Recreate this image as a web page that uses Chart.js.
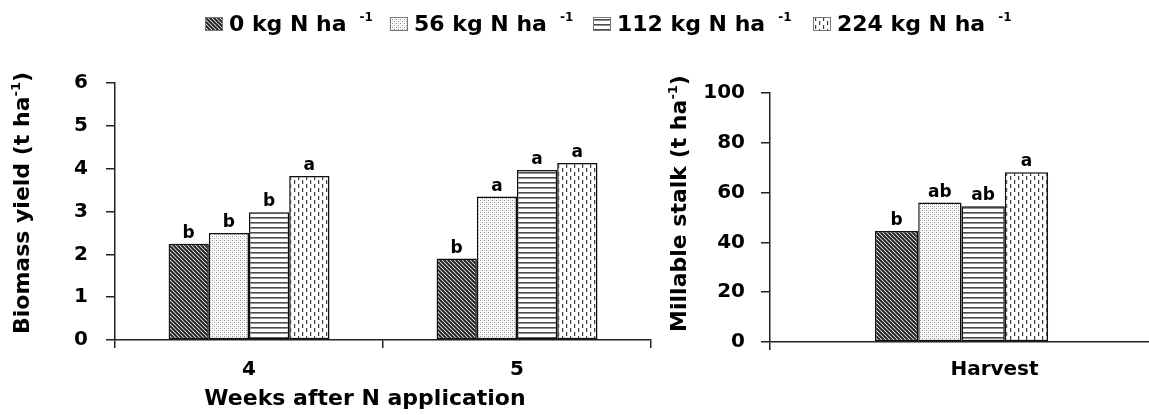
<!DOCTYPE html>
<html>
<head>
<meta charset="utf-8">
<script src="https://cdn.jsdelivr.net/npm/chart.js@4.4.1/dist/chart.umd.min.js"></script>
<style>
  html, body { margin:0; padding:0; background:#fff; overflow:hidden; width:1149px; height:415px; }
  #wrap { position:relative; width:1149px; height:415px; overflow:hidden; font-family:"DejaVu Sans", sans-serif; }
  #c1 { position:absolute; left:0; top:0; }
  #c2 { position:absolute; left:640px; top:0; }
  .lg { position:absolute; top:11px; display:flex; align-items:center; font-weight:bold; font-size:22px; color:#000; white-space:nowrap; }
  .lg canvas { width:18px; height:14px; margin-right:6px; }
  .lg sup { font-size:12px; position:relative; top:-7px; vertical-align:baseline; margin-left:13px; }
</style>
</head>
<body>
<div id="wrap">
  <canvas id="c1" width="655" height="415"></canvas>
  <canvas id="c2" width="520" height="415"></canvas>
  <div class="lg" style="left:205px"><canvas id="k0" width="18" height="14"></canvas><span>0 kg N ha</span><sup>-1</sup></div>
  <div class="lg" style="left:390px"><canvas id="k1" width="18" height="14"></canvas><span>56 kg N ha</span><sup>-1</sup></div>
  <div class="lg" style="left:593px"><canvas id="k2" width="18" height="14"></canvas><span>112 kg N ha</span><sup>-1</sup></div>
  <div class="lg" style="left:813px"><canvas id="k3" width="18" height="14"></canvas><span>224 kg N ha</span><sup>-1</sup></div>
</div>
<script>
// ---------------- DATA ----------------
const weeks = ['4', '5'];
const harvest = ['Harvest'];
const seriesNames = ['0 kg N ha-1', '56 kg N ha-1', '112 kg N ha-1', '224 kg N ha-1'];

const biomass0   = [2.25, 1.90];
const biomass56  = [2.50, 3.35];
const biomass112 = [2.98, 3.97];
const biomass224 = [3.83, 4.13];
const biomassSig0   = ['b', 'b'];
const biomassSig56  = ['b', 'a'];
const biomassSig112 = ['b', 'a'];
const biomassSig224 = ['a', 'a'];

const stalk0   = [44.6];
const stalk56  = [56.0];
const stalk112 = [54.5];
const stalk224 = [68.2];
const stalkSig0   = ['b'];
const stalkSig56  = ['ab'];
const stalkSig112 = ['ab'];
const stalkSig224 = ['a'];

const biomassTicks = [0, 1, 2, 3, 4, 5, 6];
const stalkTicks = [0, 20, 40, 60, 80, 100];

// ---------------- PATTERNS ----------------
function makeTile(w, h, draw) {
  const c = document.createElement('canvas');
  c.width = w; c.height = h;
  const x = c.getContext('2d');
  x.fillStyle = '#fff'; x.fillRect(0, 0, w, h);
  draw(x);
  return c;
}
const tiles = [
  makeTile(4, 4, x => { // dark back-diagonal hatch
    x.strokeStyle = '#222'; x.lineWidth = 2;
    x.beginPath();
    x.moveTo(-1, -1); x.lineTo(5, 5);
    x.moveTo(-1, 3); x.lineTo(1, 5);
    x.moveTo(3, -1); x.lineTo(5, 1);
    x.stroke();
  }),
  makeTile(4, 4, x => { // light stipple
    x.fillStyle = '#8a8a8a';
    x.fillRect(0, 0, 1, 1); x.fillRect(2, 2, 1, 1);
    x.fillStyle = '#d0d0d0';
    x.fillRect(2, 0, 1, 1); x.fillRect(0, 2, 1, 1);
  }),
  makeTile(6, 5, x => { // horizontal lines
    x.fillStyle = '#4a4a4a'; x.fillRect(0, 2, 6, 1.6);
  }),
  makeTile(8, 8, x => { // vertical dashes
    x.fillStyle = '#3a3a3a';
    x.fillRect(2, 0, 1.2, 4);
    x.fillRect(6, 4, 1.2, 4);
  })
];
function pat(i) { return document.createElement('canvas').getContext('2d').createPattern(tiles[i], 'repeat'); }

// legend keys
for (let i = 0; i < 4; i++) {
  const k = document.getElementById('k' + i).getContext('2d');
  k.fillStyle = k.createPattern(tiles[i], 'repeat');
  k.fillRect(0, 0, 18, 14);
  k.strokeStyle = '#777'; k.lineWidth = 1; k.strokeRect(0.5, 0.5, 17, 13);
}

// ---------------- PLUGINS ----------------
const shadowPlugin = {
  id: 'barShadow',
  beforeDatasetDraw(chart) {
    const ctx = chart.ctx; ctx.save();
    ctx.shadowColor = 'rgba(0,0,0,0.28)'; ctx.shadowOffsetX = 3; ctx.shadowOffsetY = 1; ctx.shadowBlur = 3;
  },
  afterDatasetDraw(chart) { chart.ctx.restore(); }
};
const sigPlugin = {
  id: 'sigLetters',
  afterDatasetsDraw(chart) {
    const ctx = chart.ctx;
    ctx.save();
    ctx.font = 'bold 17px "DejaVu Sans"';
    ctx.fillStyle = '#000'; ctx.textAlign = 'center'; ctx.textBaseline = 'alphabetic';
    chart.data.datasets.forEach((ds, di) => {
      chart.getDatasetMeta(di).data.forEach((bar, i) => {
        ctx.fillText(ds.sig[i], bar.x, bar.y - 6);
      });
    });
    ctx.restore();
  }
};
const freeTextPlugin = {
  id: 'freeText',
  afterDraw(chart, args, opts) {
    const ctx = chart.ctx;
    (opts.items || []).forEach(it => {
      ctx.save();
      ctx.translate(it.x, it.y);
      if (it.rotate) ctx.rotate(it.rotate);
      ctx.fillStyle = '#000'; ctx.textBaseline = 'alphabetic'; ctx.textAlign = 'left';
      const main = 'bold 22px "DejaVu Sans"', small = 'bold 13px "DejaVu Sans"';
      let total = 0;
      it.parts.forEach(p => { ctx.font = p.sup ? small : main; total += ctx.measureText(p.t).width; });
      let cx = -total / 2;
      it.parts.forEach(p => {
        ctx.font = p.sup ? small : main;
        ctx.fillText(p.t, cx, p.sup ? -9 : 0);
        cx += ctx.measureText(p.t).width;
      });
      ctx.restore();
    });
  }
};

Chart.defaults.font.family = '"DejaVu Sans", sans-serif';
Chart.defaults.color = '#000';

function mkDatasets(vals, sigs) {
  return vals.map((v, i) => ({
    label: seriesNames[i], data: v, sig: sigs[i],
    backgroundColor: pat(i), borderColor: '#111', borderWidth: 1.5, borderSkipped: false,
    categoryPercentage: 1, barPercentage: 1
  }));
}

function axisOpts(yTicks, yMax, yWidth, xHeight, tickPad, xPad, labelOffset) {
  return {
    x: {
      offset: true,
      grid: { display: true, drawOnChartArea: false, drawTicks: true, tickLength: 8, color: '#222', lineWidth: 1.5, offset: true },
      border: { display: true, color: '#222', width: 1.5 },
      ticks: { font: { size: 20, weight: 'bold' }, padding: xPad, labelOffset: labelOffset || 0, maxRotation: 0 },
      afterFit(s) { s.height = xHeight; }
    },
    y: {
      min: 0, max: yMax,
      afterBuildTicks(s) { s.ticks = yTicks.map(v => ({ value: v })); },
      grid: { display: true, drawOnChartArea: false, drawTicks: true, tickLength: 9, color: '#222', lineWidth: 1.5 },
      border: { display: true, color: '#222', width: 1.5 },
      ticks: { font: { size: 20, weight: 'bold' }, padding: tickPad },
      afterFit(s) { s.width = yWidth; }
    }
  };
}

// ---------------- LEFT CHART ----------------
const dsL = mkDatasets([biomass0, biomass56, biomass112, biomass224], [biomassSig0, biomassSig56, biomassSig112, biomassSig224]);
dsL.forEach(d => { d.categoryPercentage = 0.6; });
new Chart(document.getElementById('c1'), {
  type: 'bar',
  data: { labels: weeks, datasets: dsL },
  options: {
    responsive: false, animation: false,
    layout: { padding: { top: 83, right: 4, left: 0, bottom: 0 } },
    plugins: {
      legend: { display: false }, tooltip: { enabled: false },
      freeText: { items: [
        { x: 365, y: 405, parts: [{ t: 'Weeks after N application' }] },
        { x: 29, y: 203, rotate: -Math.PI / 2, parts: [{ t: 'Biomass yield (t ha' }, { t: '-1', sup: true }, { t: ')' }] }
      ] }
    },
    scales: axisOpts(biomassTicks, 6, 115, 75, 18, 10)
  },
  plugins: [shadowPlugin, sigPlugin, freeTextPlugin]
});

// ---------------- RIGHT CHART ----------------
const dsR = mkDatasets([stalk0, stalk56, stalk112, stalk224], [stalkSig0, stalkSig56, stalkSig112, stalkSig224]);
dsR.forEach(d => { d.categoryPercentage = 0.452; });
new Chart(document.getElementById('c2'), {
  type: 'bar',
  data: { labels: harvest, datasets: dsR },
  options: {
    responsive: false, animation: false,
    layout: { padding: { top: 93, right: 7, left: 0, bottom: 0 } },
    plugins: {
      legend: { display: false }, tooltip: { enabled: false },
      freeText: { items: [
        { x: 46, y: 203.5, rotate: -Math.PI / 2, parts: [{ t: 'Millable stalk (t ha' }, { t: '-1', sup: true }, { t: ')' }] }
      ] }
    },
    scales: axisOpts(stalkTicks, 100, 130, 73, 16, 8, 33)
  },
  plugins: [shadowPlugin, sigPlugin, freeTextPlugin]
});
</script>
</body>
</html>
